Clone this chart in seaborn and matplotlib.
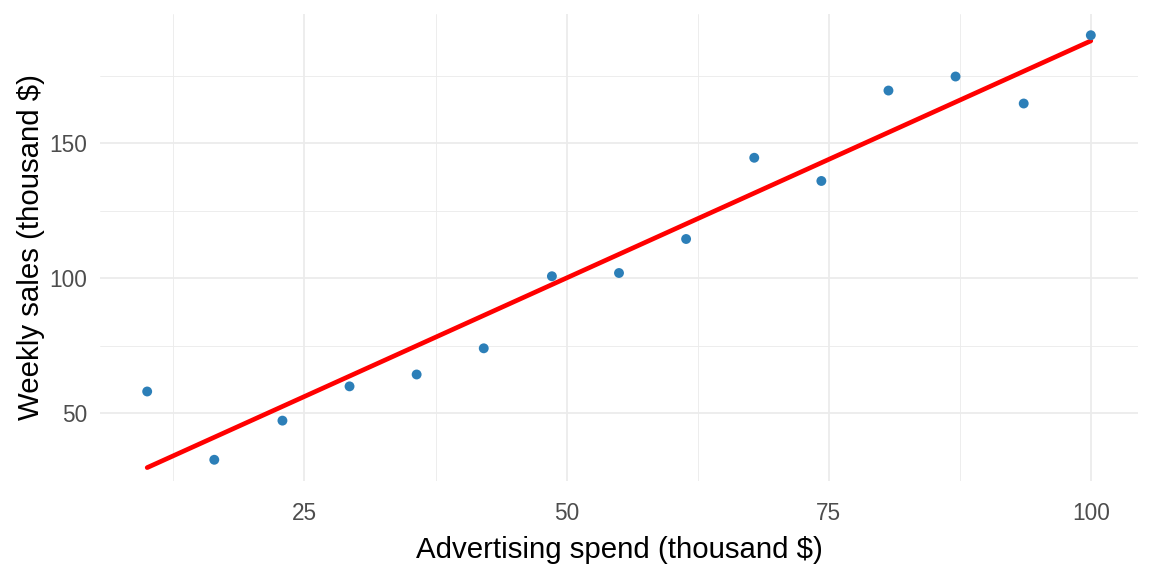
import matplotlib
matplotlib.use("Agg")
import matplotlib.pyplot as plt
import seaborn as sns
import numpy as np
import pandas as pd
from matplotlib.ticker import MultipleLocator

ad_spend = [10.0, 16.4, 22.9, 29.3, 35.7, 42.1, 48.6, 55.0, 61.4, 67.9, 74.3, 80.7, 87.1, 93.6, 100.0]
sales = [58.0, 32.7, 47.2, 59.9, 64.3, 74.0, 100.7, 101.9, 114.5, 144.6, 136.0, 169.5, 174.7, 164.7, 190.0]
x_ticks = [25, 50, 75, 100]
y_ticks = [50, 100, 150]

df = pd.DataFrame({"ad": ad_spend, "sales": sales})

sns.set_theme(style="white")
plt.rcParams["font.family"] = ["Liberation Sans", "DejaVu Sans"]

fig, ax = plt.subplots(figsize=(12, 6), dpi=96)
fig.subplots_adjust(left=100/1152, right=1138/1152, top=1-14/576, bottom=1-481/576)

sns.regplot(data=df, x="ad", y="sales", ci=None, ax=ax,
            scatter_kws=dict(color="#2C7FB8", s=55, edgecolor="none", alpha=1, zorder=3),
            line_kws=dict(color="#FF0000", linewidth=3.5, zorder=2))

xr = max(ad_spend) - min(ad_spend)
yr = max(sales) - min(sales)
ax.set_xlim(min(ad_spend) - 0.05 * xr, max(ad_spend) + 0.05 * xr)
ax.set_ylim(min(sales) - 0.05 * yr, max(sales) + 0.05 * yr)
ax.set_xticks(x_ticks)
ax.set_yticks(y_ticks)
ax.xaxis.set_minor_locator(MultipleLocator(12.5))
ax.yaxis.set_minor_locator(MultipleLocator(25))
ax.grid(which="major", color="#EBEBEB", linewidth=1.3)
ax.grid(which="minor", color="#EBEBEB", linewidth=0.65)
ax.set_axisbelow(True)
for s in ax.spines.values():
    s.set_visible(False)
ax.tick_params(which="both", length=0, labelsize=17, labelcolor="#4D4D4D")
ax.tick_params(axis="y", pad=9.5)
ax.tick_params(axis="x", pad=16)
ax.set_xlabel("Advertising spend (thousand $)", fontsize=22, color="black", labelpad=8)
ax.set_ylabel("Weekly sales (thousand $)", fontsize=22, color="black", labelpad=3)

fig.savefig("out.png", dpi=96, facecolor="white")
